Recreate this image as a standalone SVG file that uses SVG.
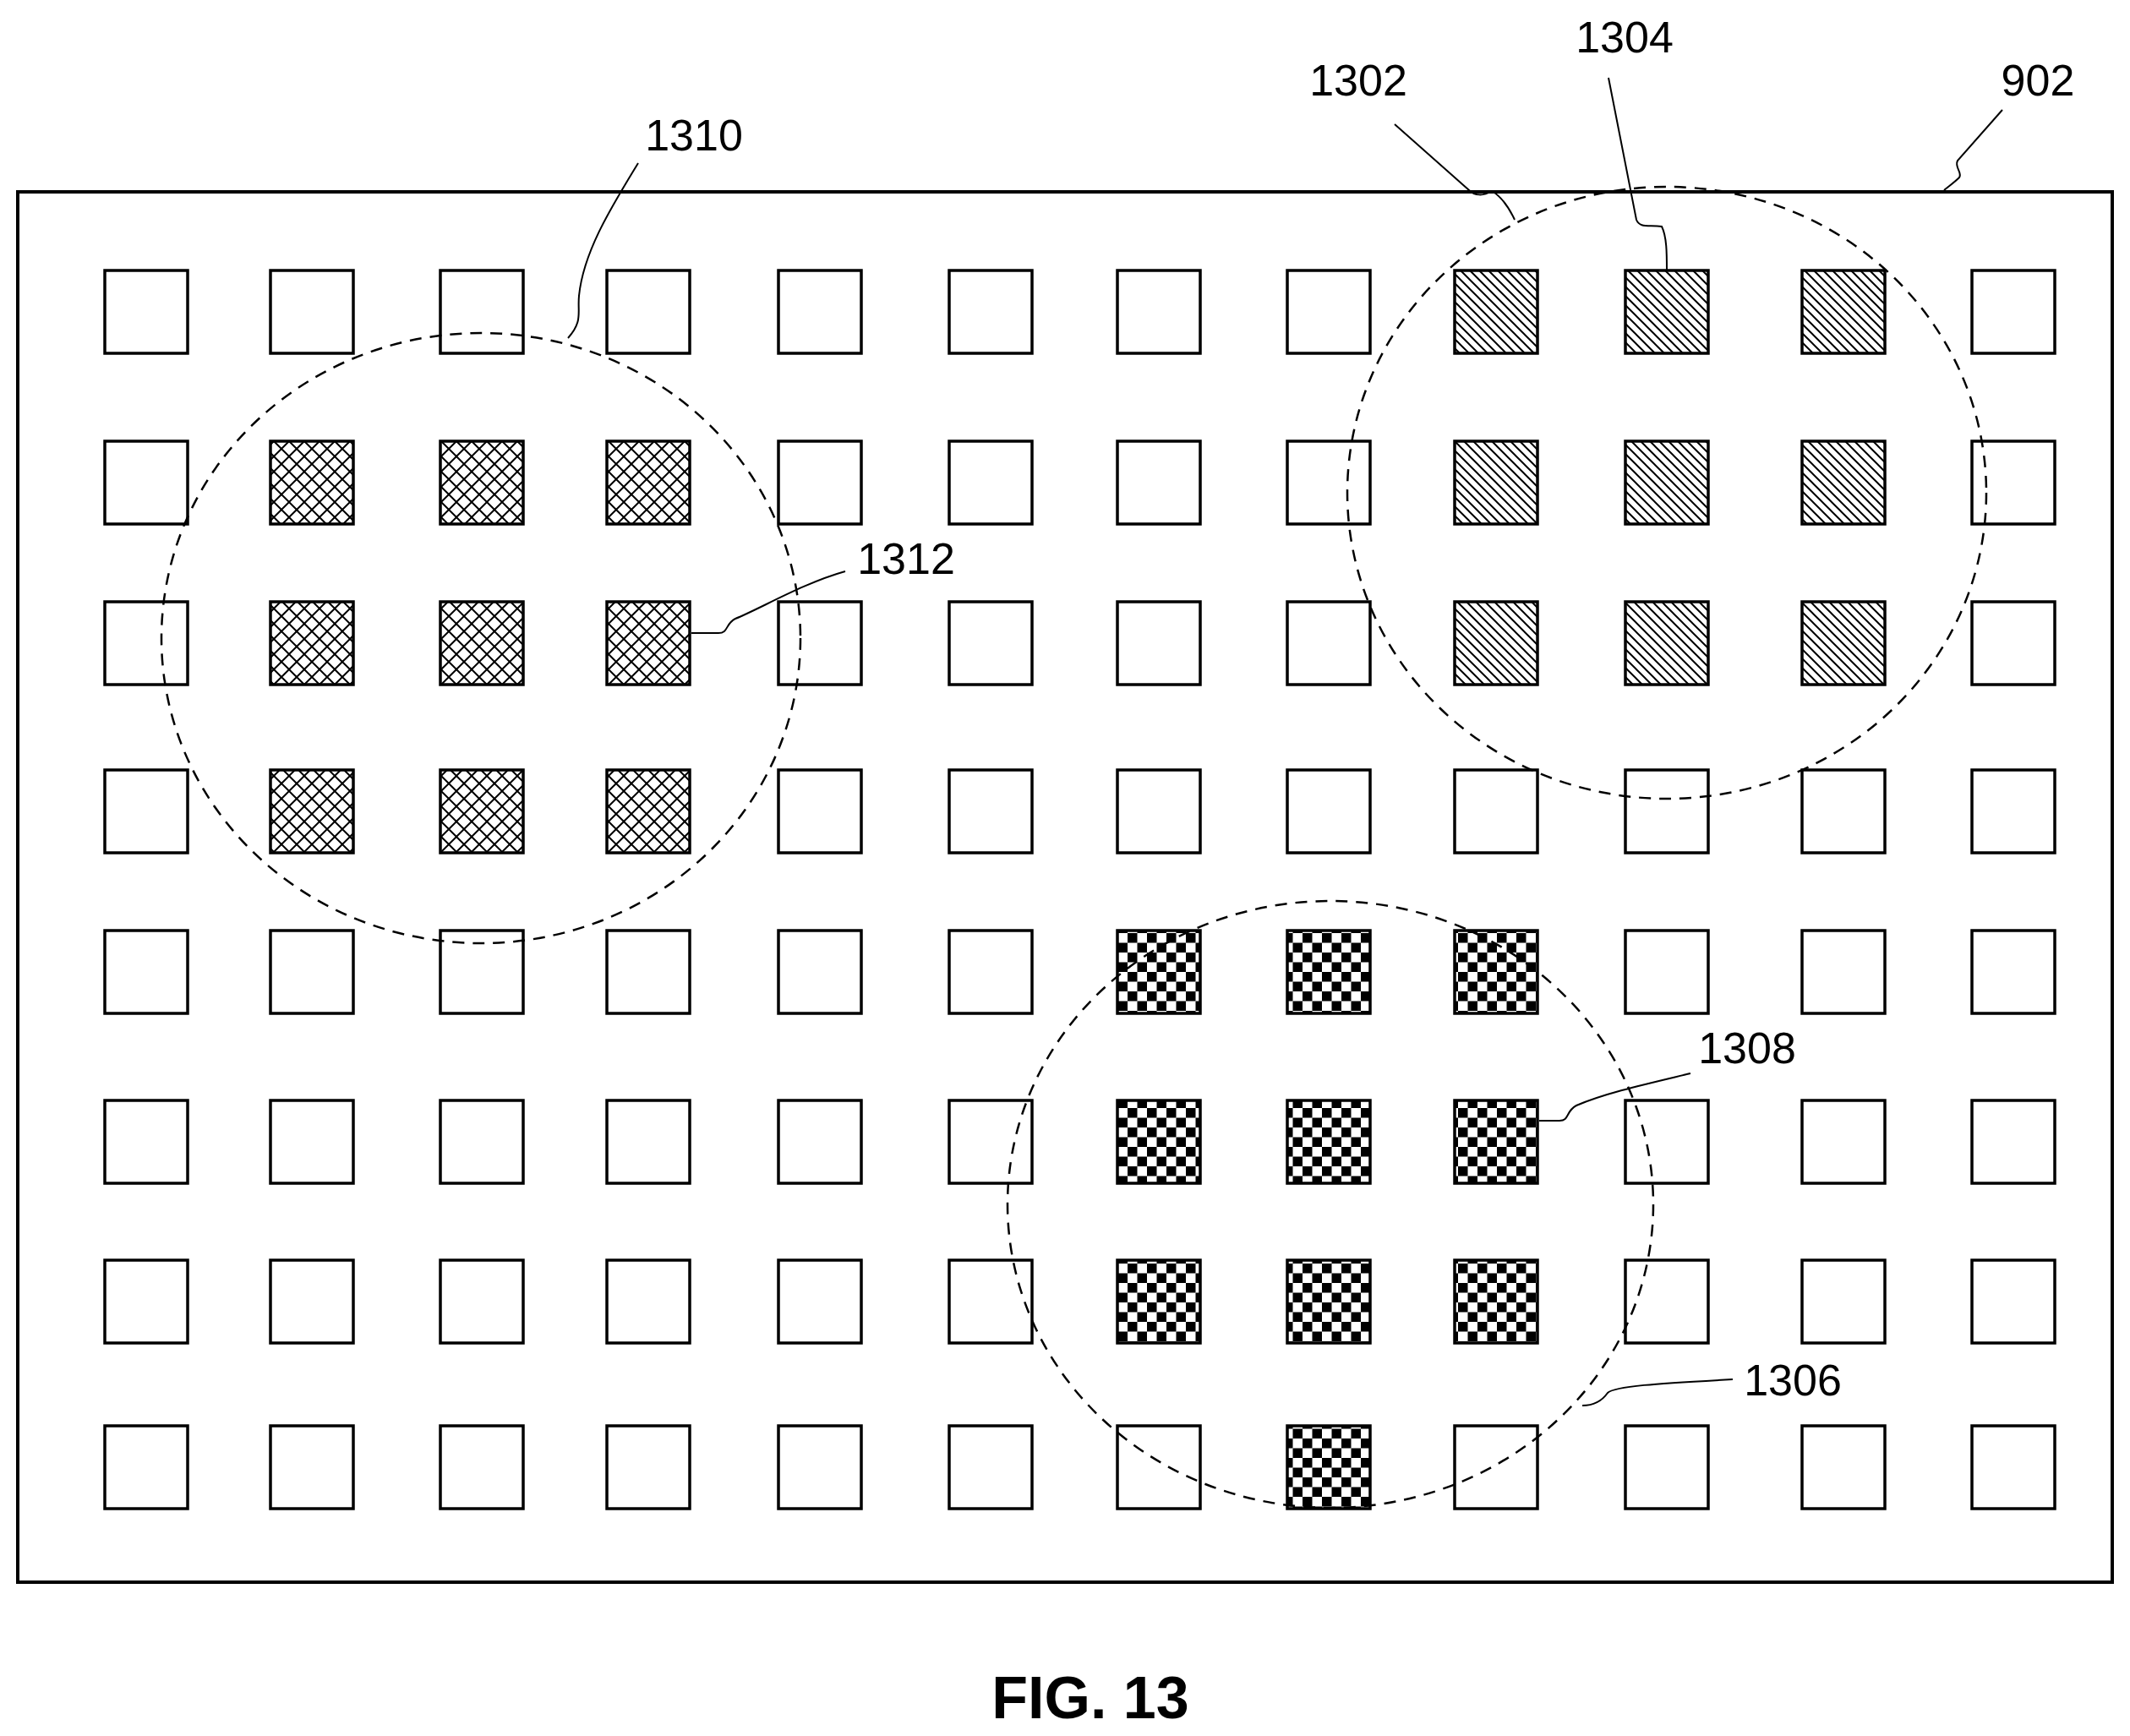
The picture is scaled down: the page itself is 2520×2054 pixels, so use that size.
<svg xmlns="http://www.w3.org/2000/svg" width="2520" height="2054" viewBox="0 0 2520 2054">
<style>
.sq{fill:#fff;stroke:#000;stroke-width:3.5}
.ld{fill:none;stroke:#000;stroke-width:2}
.cir{fill:none;stroke:#000;stroke-width:2.5;stroke-dasharray:14 10}
.lb{font-family:"Liberation Sans",Arial,sans-serif;font-size:52px;fill:#000}
</style>
<defs>
<pattern id="cross" width="18" height="18" patternUnits="userSpaceOnUse">
<rect width="18" height="18" fill="#fff"/>
<path d="M0 0L18 18M18 0L0 18" stroke="#000" stroke-width="2"/>
</pattern>
<pattern id="diag" width="11" height="11" patternUnits="userSpaceOnUse">
<rect width="11" height="11" fill="#fff"/>
<path d="M0 0L11 11M-11 0L11 22M0 -11L22 11" stroke="#000" stroke-width="2"/>
</pattern>
<pattern id="check" width="23" height="23" patternUnits="userSpaceOnUse">
<rect width="23" height="23" fill="#fff"/>
<rect width="11.5" height="11.5" fill="#000"/>
<rect x="11.5" y="11.5" width="11.5" height="11.5" fill="#000"/>
</pattern>
</defs>
<rect width="2520" height="2054" fill="#fff"/>
<g id="frame902"><rect x="21" y="227" width="2478" height="1645" fill="none" stroke="#000" stroke-width="4"/></g>
<g id="cells">
<g id="row0"><rect class="sq" x="124" y="320" width="98" height="98"/><rect class="sq" x="320" y="320" width="98" height="98"/><rect class="sq" x="521" y="320" width="98" height="98"/><rect class="sq" x="718" y="320" width="98" height="98"/><rect class="sq" x="921" y="320" width="98" height="98"/><rect class="sq" x="1123" y="320" width="98" height="98"/><rect class="sq" x="1322" y="320" width="98" height="98"/><rect class="sq" x="1523" y="320" width="98" height="98"/><rect class="sq" x="1721" y="320" width="98" height="98" style="fill:url(#diag)"/><rect class="sq" x="1923" y="320" width="98" height="98" style="fill:url(#diag)"/><rect class="sq" x="2132" y="320" width="98" height="98" style="fill:url(#diag)"/><rect class="sq" x="2333" y="320" width="98" height="98"/></g>
<g id="row1"><rect class="sq" x="124" y="522" width="98" height="98"/><rect class="sq" x="320" y="522" width="98" height="98" style="fill:url(#cross)"/><rect class="sq" x="521" y="522" width="98" height="98" style="fill:url(#cross)"/><rect class="sq" x="718" y="522" width="98" height="98" style="fill:url(#cross)"/><rect class="sq" x="921" y="522" width="98" height="98"/><rect class="sq" x="1123" y="522" width="98" height="98"/><rect class="sq" x="1322" y="522" width="98" height="98"/><rect class="sq" x="1523" y="522" width="98" height="98"/><rect class="sq" x="1721" y="522" width="98" height="98" style="fill:url(#diag)"/><rect class="sq" x="1923" y="522" width="98" height="98" style="fill:url(#diag)"/><rect class="sq" x="2132" y="522" width="98" height="98" style="fill:url(#diag)"/><rect class="sq" x="2333" y="522" width="98" height="98"/></g>
<g id="row2"><rect class="sq" x="124" y="712" width="98" height="98"/><rect class="sq" x="320" y="712" width="98" height="98" style="fill:url(#cross)"/><rect class="sq" x="521" y="712" width="98" height="98" style="fill:url(#cross)"/><rect class="sq" x="718" y="712" width="98" height="98" style="fill:url(#cross)"/><rect class="sq" x="921" y="712" width="98" height="98"/><rect class="sq" x="1123" y="712" width="98" height="98"/><rect class="sq" x="1322" y="712" width="98" height="98"/><rect class="sq" x="1523" y="712" width="98" height="98"/><rect class="sq" x="1721" y="712" width="98" height="98" style="fill:url(#diag)"/><rect class="sq" x="1923" y="712" width="98" height="98" style="fill:url(#diag)"/><rect class="sq" x="2132" y="712" width="98" height="98" style="fill:url(#diag)"/><rect class="sq" x="2333" y="712" width="98" height="98"/></g>
<g id="row3"><rect class="sq" x="124" y="911" width="98" height="98"/><rect class="sq" x="320" y="911" width="98" height="98" style="fill:url(#cross)"/><rect class="sq" x="521" y="911" width="98" height="98" style="fill:url(#cross)"/><rect class="sq" x="718" y="911" width="98" height="98" style="fill:url(#cross)"/><rect class="sq" x="921" y="911" width="98" height="98"/><rect class="sq" x="1123" y="911" width="98" height="98"/><rect class="sq" x="1322" y="911" width="98" height="98"/><rect class="sq" x="1523" y="911" width="98" height="98"/><rect class="sq" x="1721" y="911" width="98" height="98"/><rect class="sq" x="1923" y="911" width="98" height="98"/><rect class="sq" x="2132" y="911" width="98" height="98"/><rect class="sq" x="2333" y="911" width="98" height="98"/></g>
<g id="row4"><rect class="sq" x="124" y="1101" width="98" height="98"/><rect class="sq" x="320" y="1101" width="98" height="98"/><rect class="sq" x="521" y="1101" width="98" height="98"/><rect class="sq" x="718" y="1101" width="98" height="98"/><rect class="sq" x="921" y="1101" width="98" height="98"/><rect class="sq" x="1123" y="1101" width="98" height="98"/><rect class="sq" x="1322" y="1101" width="98" height="98" style="fill:url(#check)"/><rect class="sq" x="1523" y="1101" width="98" height="98" style="fill:url(#check)"/><rect class="sq" x="1721" y="1101" width="98" height="98" style="fill:url(#check)"/><rect class="sq" x="1923" y="1101" width="98" height="98"/><rect class="sq" x="2132" y="1101" width="98" height="98"/><rect class="sq" x="2333" y="1101" width="98" height="98"/></g>
<g id="row5"><rect class="sq" x="124" y="1302" width="98" height="98"/><rect class="sq" x="320" y="1302" width="98" height="98"/><rect class="sq" x="521" y="1302" width="98" height="98"/><rect class="sq" x="718" y="1302" width="98" height="98"/><rect class="sq" x="921" y="1302" width="98" height="98"/><rect class="sq" x="1123" y="1302" width="98" height="98"/><rect class="sq" x="1322" y="1302" width="98" height="98" style="fill:url(#check)"/><rect class="sq" x="1523" y="1302" width="98" height="98" style="fill:url(#check)"/><rect class="sq" x="1721" y="1302" width="98" height="98" style="fill:url(#check)"/><rect class="sq" x="1923" y="1302" width="98" height="98"/><rect class="sq" x="2132" y="1302" width="98" height="98"/><rect class="sq" x="2333" y="1302" width="98" height="98"/></g>
<g id="row6"><rect class="sq" x="124" y="1491" width="98" height="98"/><rect class="sq" x="320" y="1491" width="98" height="98"/><rect class="sq" x="521" y="1491" width="98" height="98"/><rect class="sq" x="718" y="1491" width="98" height="98"/><rect class="sq" x="921" y="1491" width="98" height="98"/><rect class="sq" x="1123" y="1491" width="98" height="98"/><rect class="sq" x="1322" y="1491" width="98" height="98" style="fill:url(#check)"/><rect class="sq" x="1523" y="1491" width="98" height="98" style="fill:url(#check)"/><rect class="sq" x="1721" y="1491" width="98" height="98" style="fill:url(#check)"/><rect class="sq" x="1923" y="1491" width="98" height="98"/><rect class="sq" x="2132" y="1491" width="98" height="98"/><rect class="sq" x="2333" y="1491" width="98" height="98"/></g>
<g id="row7"><rect class="sq" x="124" y="1687" width="98" height="98"/><rect class="sq" x="320" y="1687" width="98" height="98"/><rect class="sq" x="521" y="1687" width="98" height="98"/><rect class="sq" x="718" y="1687" width="98" height="98"/><rect class="sq" x="921" y="1687" width="98" height="98"/><rect class="sq" x="1123" y="1687" width="98" height="98"/><rect class="sq" x="1322" y="1687" width="98" height="98"/><rect class="sq" x="1523" y="1687" width="98" height="98" style="fill:url(#check)"/><rect class="sq" x="1721" y="1687" width="98" height="98"/><rect class="sq" x="1923" y="1687" width="98" height="98"/><rect class="sq" x="2132" y="1687" width="98" height="98"/><rect class="sq" x="2333" y="1687" width="98" height="98"/></g>
</g>
<g id="region1302"><ellipse class="cir" cx="1972" cy="583" rx="378" ry="362"/></g>
<g id="region1310"><ellipse class="cir" cx="569" cy="755" rx="378" ry="361"/></g>
<g id="region1306"><ellipse class="cir" cx="1574" cy="1425" rx="382" ry="359"/></g>
<g id="connectors">
<path class="ld" d="M755 193 C720 250 690 300 685 350 C683 370 690 380 672 400"/>
<path class="ld" d="M1650 147 L1738 225 C1745 232 1755 232 1765 226 C1775 232 1785 245 1792 260"/>
<path class="ld" d="M1903 92 L1936 260 C1940 270 1950 266 1966 268 C1972 280 1972 300 1972 320"/>
<path class="ld" d="M2369 130 L2316 190 C2312 198 2322 204 2318 210 C2312 216 2306 220 2300 225"/>
<path class="ld" d="M818 749 L850 749 C862 749 858 738 870 732 C900 720 950 690 1000 676"/>
<path class="ld" d="M1821 1326 L1845 1326 C1857 1326 1852 1315 1865 1308 C1900 1293 1950 1282 2000 1270"/>
<path class="ld" d="M1872 1663 C1885 1663 1895 1658 1902 1648 C1910 1640 1960 1637 2050 1632"/>
</g>
<g id="labels">
<text class="lb" x="821" y="178" text-anchor="middle">1310</text>
<text class="lb" x="1607" y="113" text-anchor="middle">1302</text>
<text class="lb" x="1922" y="62" text-anchor="middle">1304</text>
<text class="lb" x="2411" y="113" text-anchor="middle">902</text>
<text class="lb" x="1072" y="679" text-anchor="middle">1312</text>
<text class="lb" x="2067" y="1258" text-anchor="middle">1308</text>
<text class="lb" x="2121" y="1651" text-anchor="middle">1306</text>
<text x="1290" y="2033" text-anchor="middle" style="font-family:'Liberation Sans',Arial,sans-serif;font-size:70px;font-weight:bold">FIG. 13</text>
</g>
</svg>
